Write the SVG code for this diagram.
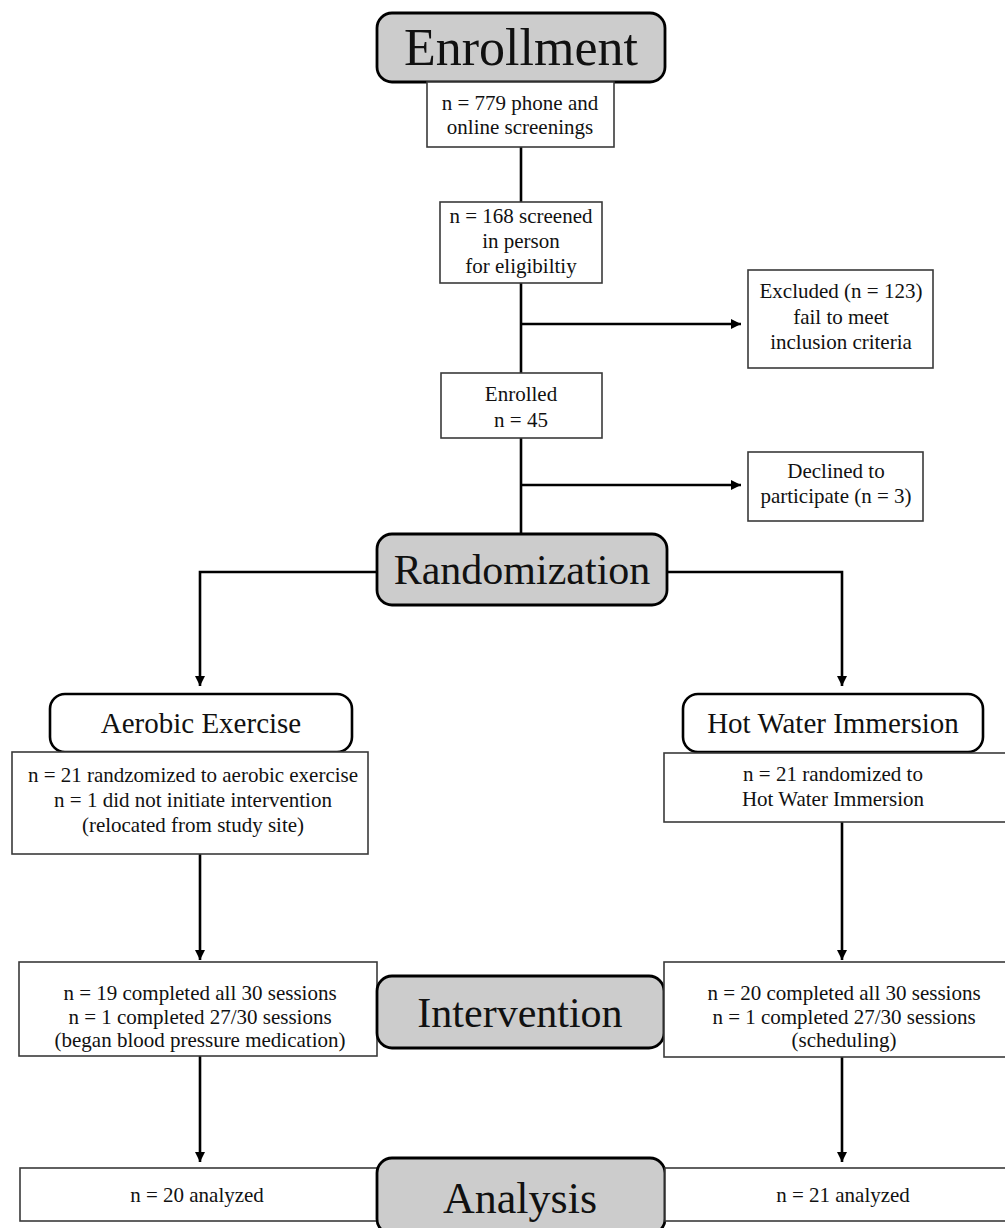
<svg xmlns="http://www.w3.org/2000/svg" width="1005" height="1228" viewBox="0 0 1005 1228">
<style>
.stage{fill:#cccccc;stroke:#000;stroke-width:2.8}
.arm{fill:#fff;stroke:#000;stroke-width:2.6}
.box{fill:#fff;stroke:#3a3a3a;stroke-width:1.6}
.big{font-family:"Liberation Serif","Times New Roman",serif;font-size:42px;text-anchor:middle;fill:#111}
.mid{font-family:"Liberation Serif","Times New Roman",serif;font-size:29px;text-anchor:middle;fill:#111}
.t{font-family:"Liberation Serif","Times New Roman",serif;font-size:21px;text-anchor:middle;fill:#111}
.c{fill:none;stroke:#000;stroke-width:2.6}
</style>
<defs>
<marker id="ah" viewBox="0 0 10 10" refX="10" refY="5" markerWidth="12" markerHeight="10" markerUnits="userSpaceOnUse" orient="auto">
<path d="M0,0 L10,5 L0,10 z" fill="#000"/>
</marker>
</defs>
<rect width="1005" height="1228" fill="#fff"/>
<g id="connectors">
<path class="c" d="M521,147 V202"/>
<path class="c" d="M521,283 V373"/>
<path class="c" d="M521,438 V534"/>
<path class="c" d="M521,324 H741" marker-end="url(#ah)"/>
<path class="c" d="M521,485 H741" marker-end="url(#ah)"/>
<path class="c" d="M377,572 H200 V686" marker-end="url(#ah)"/>
<path class="c" d="M667,572 H842 V686" marker-end="url(#ah)"/>
<path class="c" d="M200,854 V960" marker-end="url(#ah)"/>
<path class="c" d="M842,822 V960" marker-end="url(#ah)"/>
<path class="c" d="M200,1056 V1162" marker-end="url(#ah)"/>
<path class="c" d="M842,1057 V1162" marker-end="url(#ah)"/>
</g>
<g id="enrollment">
<rect class="stage" x="377" y="13" width="288" height="69" rx="15"/>
<text class="big" x="521" y="65" style="font-size:52px">Enrollment</text>
</g>
<g id="screen-779">
<rect class="box" x="427" y="82" width="187" height="65"/>
<text class="t" x="520" y="110">n = 779 phone and</text>
<text class="t" x="520" y="134">online screenings</text>
</g>
<g id="screen-168">
<rect class="box" x="440" y="202" width="162" height="81"/>
<text class="t" x="521" y="223">n = 168 screened</text>
<text class="t" x="521" y="248">in person</text>
<text class="t" x="521" y="273">for eligibiltiy</text>
</g>
<g id="excluded">
<rect class="box" x="748" y="270" width="185" height="98"/>
<text class="t" x="841" y="298">Excluded (n = 123)</text>
<text class="t" x="841" y="324">fail to meet</text>
<text class="t" x="841" y="349">inclusion criteria</text>
</g>
<g id="enrolled">
<rect class="box" x="441" y="373" width="161" height="65"/>
<text class="t" x="521" y="401">Enrolled</text>
<text class="t" x="521" y="427">n = 45</text>
</g>
<g id="declined">
<rect class="box" x="748" y="452" width="175" height="69"/>
<text class="t" x="836" y="478">Declined to</text>
<text class="t" x="836" y="503">participate (n = 3)</text>
</g>
<g id="randomization">
<rect class="stage" x="377" y="534" width="290" height="71" rx="15"/>
<text class="big" x="522" y="584">Randomization</text>
</g>
<g id="aerobic">
<rect class="arm" x="50" y="694" width="302" height="58" rx="15"/>
<text class="mid" x="201" y="733">Aerobic Exercise</text>
</g>
<g id="aerobic-n">
<rect class="box" x="12" y="752" width="356" height="102"/>
<text class="t" x="193" y="782">n = 21 randzomized to aerobic exercise</text>
<text class="t" x="193" y="807">n = 1 did not initiate intervention</text>
<text class="t" x="193" y="832">(relocated from study site)</text>
</g>
<g id="hwi">
<rect class="arm" x="683" y="694" width="300" height="58" rx="15"/>
<text class="mid" x="833" y="733">Hot Water Immersion</text>
</g>
<g id="hwi-n">
<rect class="box" x="664" y="753" width="345" height="69"/>
<text class="t" x="833" y="781">n = 21 randomized to</text>
<text class="t" x="833" y="806">Hot Water Immersion</text>
</g>
<g id="aerobic-int">
<rect class="box" x="19" y="962" width="358" height="94"/>
<text class="t" x="200" y="1000">n = 19 completed all 30 sessions</text>
<text class="t" x="200" y="1024">n = 1 completed 27/30 sessions</text>
<text class="t" x="200" y="1047">(began blood pressure medication)</text>
</g>
<g id="intervention">
<rect class="stage" x="377" y="976" width="287" height="72" rx="15"/>
<text class="big" x="520" y="1027">Intervention</text>
</g>
<g id="hwi-int">
<rect class="box" x="664" y="962" width="345" height="95"/>
<text class="t" x="844" y="1000">n = 20 completed all 30 sessions</text>
<text class="t" x="844" y="1024">n = 1 completed 27/30 sessions</text>
<text class="t" x="844" y="1047">(scheduling)</text>
</g>
<g id="aerobic-analyzed">
<rect class="box" x="20" y="1168" width="357" height="53"/>
<text class="t" x="197" y="1202">n = 20 analyzed</text>
</g>
<g id="analysis">
<rect class="stage" x="377" y="1158" width="288" height="76" rx="15"/>
<text class="big" x="520" y="1213" style="font-size:44px">Analysis</text>
</g>
<g id="hwi-analyzed">
<rect class="box" x="665" y="1168" width="344" height="53"/>
<text class="t" x="843" y="1202">n = 21 analyzed</text>
</g>
</svg>
